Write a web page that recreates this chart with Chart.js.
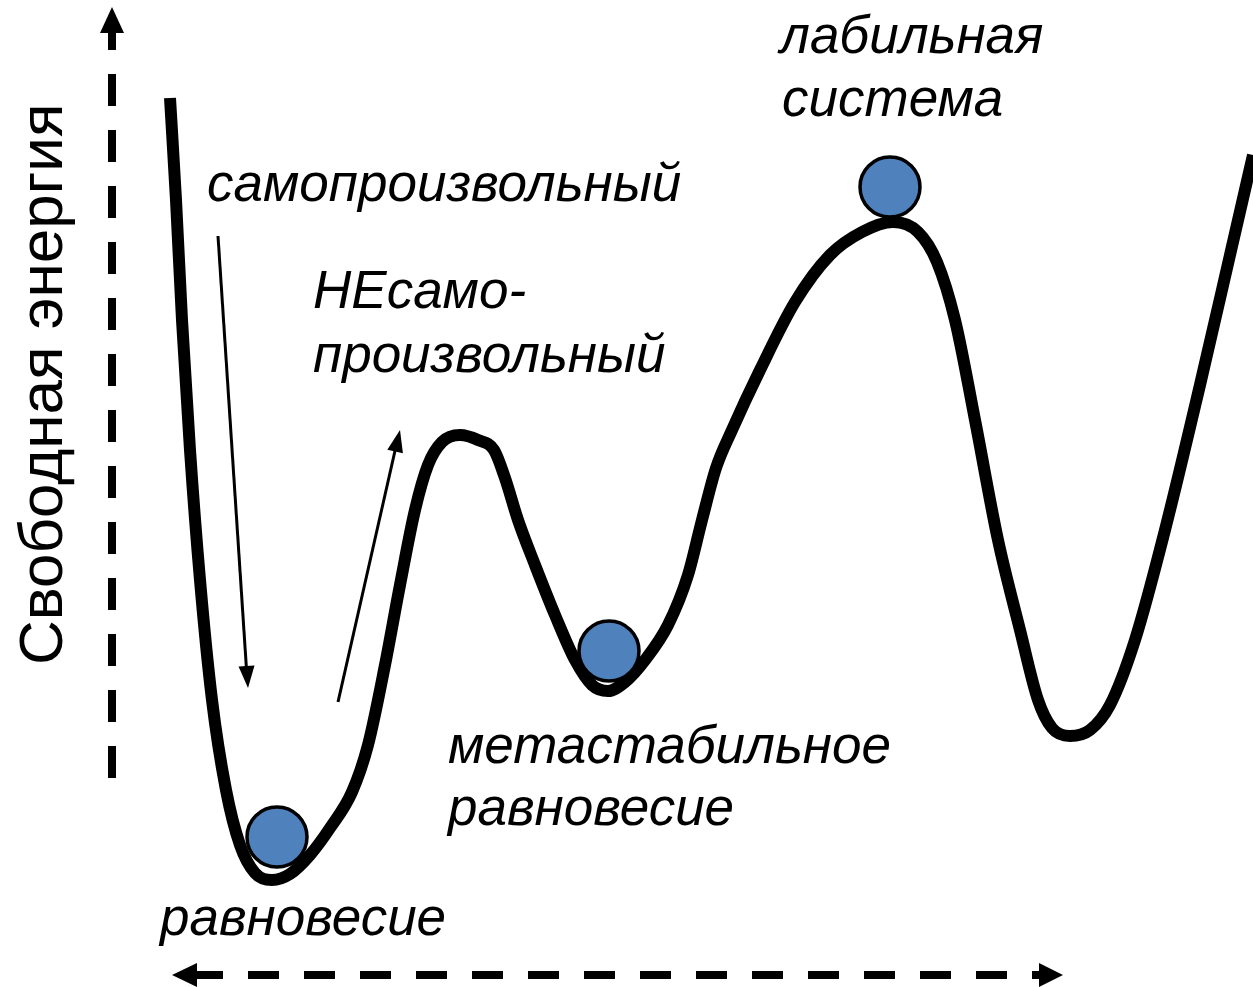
<!DOCTYPE html>
<html>
<head>
<meta charset="utf-8">
<script src="https://cdn.jsdelivr.net/npm/chart.js@4"></script>
<style>
  html, body { margin: 0; padding: 0; background: #fff; }
  canvas { display: block; }
</style>
</head>
<body>
<canvas id="energy" width="1253" height="987"></canvas>
<script>
// reaction coordinate (x) and free energy (G) along the profile
const coord = [170, 176, 182, 190, 200, 212, 226, 240, 255, 272, 290, 310, 330, 352, 368, 385, 400, 415, 428, 442,
  460, 478, 494, 505, 518, 535, 555, 575, 592, 608, 625, 645, 668, 688, 702, 716, 732, 760, 795, 830,
  862, 893, 918, 937, 955, 975, 998, 1020, 1038, 1052, 1070, 1090, 1110, 1135, 1165, 1200, 1230, 1253];
const freeEnergy = [889, 787, 667, 537, 407, 287, 197, 142, 114, 107, 113, 132, 159, 195, 242, 322, 402, 477, 522, 545,
  552, 547, 537, 509, 467, 422, 372, 327, 302, 296, 305, 327, 362, 412, 467, 519, 557, 617, 685, 732,
  755, 765, 755, 725, 667, 567, 447, 357, 287, 259, 251, 257, 282, 347, 457, 602, 732, 832];

// the three balls: stable, metastable, labile
const ballCoord = [277, 609, 890];
const ballEnergy = [150, 336, 800];

const axisTitle = 'Свободная энергия';
const labels = [
  'лабильная', 'система',
  'самопроизвольный',
  'НЕсамо-', 'произвольный',
  'метастабильное', 'равновесие',
  'равновесие'
];
// where each label starts (left, baseline) in chart units
const labelAt = [
  [780, 934], [782, 871],
  [207, 786],
  [313, 679], [313, 615],
  [448, 224], [448, 162],
  [160, 52]
];

const profile = coord.map(function(x, i) { return { x: x, y: freeEnergy[i] }; });
const balls = ballCoord.map(function(x, i) { return { x: x, y: ballEnergy[i] }; });

function arrowHead(ctx, x1, y1, x2, y2, len, half) {
  const a = Math.atan2(y2 - y1, x2 - x1);
  ctx.beginPath();
  ctx.moveTo(x2, y2);
  ctx.lineTo(x2 - len * Math.cos(a) + half * Math.sin(a), y2 - len * Math.sin(a) - half * Math.cos(a));
  ctx.lineTo(x2 - len * Math.cos(a) - half * Math.sin(a), y2 - len * Math.sin(a) + half * Math.cos(a));
  ctx.closePath();
  ctx.fill();
}

const decor = {
  id: 'decor',
  afterDatasetsDraw: function(chart) {
    const ctx = chart.ctx;
    const sx = chart.scales.x, sy = chart.scales.y;
    const px = function(v) { return sx.getPixelForValue(v); };
    const py = function(v) { return sy.getPixelForValue(v); };
    ctx.save();
    ctx.fillStyle = '#000';
    ctx.strokeStyle = '#000';

    // dashed vertical axis with arrow
    ctx.lineWidth = 8;
    ctx.setLineDash([32, 24]);
    ctx.lineDashOffset = 0;
    ctx.beginPath();
    ctx.moveTo(112, 778);
    ctx.lineTo(112, 30);
    ctx.stroke();
    ctx.setLineDash([]);
    ctx.beginPath();
    ctx.moveTo(112, 7);
    ctx.lineTo(124, 33);
    ctx.lineTo(100, 33);
    ctx.closePath();
    ctx.fill();

    // dashed horizontal axis, double headed
    ctx.setLineDash([31, 25]);
    ctx.lineDashOffset = 3;
    ctx.beginPath();
    ctx.moveTo(195, 975);
    ctx.lineTo(1042, 975);
    ctx.stroke();
    ctx.setLineDash([]);
    ctx.beginPath();
    ctx.moveTo(172, 975);
    ctx.lineTo(197, 963);
    ctx.lineTo(197, 987);
    ctx.closePath();
    ctx.fill();
    ctx.beginPath();
    ctx.moveTo(1063, 975);
    ctx.lineTo(1039, 963);
    ctx.lineTo(1039, 987);
    ctx.closePath();
    ctx.fill();

    // thin arrows: spontaneous (down) and non-spontaneous (up)
    ctx.lineWidth = 3;
    ctx.beginPath();
    ctx.moveTo(px(218), py(751));
    ctx.lineTo(px(247), py(310));
    ctx.stroke();
    arrowHead(ctx, px(218), py(751), px(248), py(299), 22, 8);
    ctx.beginPath();
    ctx.moveTo(px(338), py(285));
    ctx.lineTo(px(397), py(545));
    ctx.stroke();
    arrowHead(ctx, px(338), py(285), px(400), py(557), 22, 8);

    // labels
    ctx.font = 'italic 53px "Liberation Sans", Arial, sans-serif';
    ctx.textAlign = 'left';
    ctx.textBaseline = 'alphabetic';
    labels.forEach(function(t, i) {
      ctx.fillText(t, px(labelAt[i][0]), py(labelAt[i][1]));
    });

    // axis title, rotated
    ctx.font = '62px "Liberation Sans", Arial, sans-serif';
    ctx.translate(62, 665);
    ctx.rotate(-Math.PI / 2);
    ctx.fillText(axisTitle, 0, 0);
    ctx.restore();
  }
};

new Chart(document.getElementById('energy'), {
  type: 'line',
  data: {
    datasets: [
      {
        type: 'scatter',
        data: balls,
        pointRadius: 30,
        pointHoverRadius: 30,
        pointBackgroundColor: '#4f81bd',
        pointBorderColor: '#000',
        pointBorderWidth: 3.5,
        showLine: false,
        clip: false,
        order: 0
      },
      {
        data: profile,
        borderColor: '#000',
        borderWidth: 12,
        pointRadius: 0,
        fill: false,
        cubicInterpolationMode: 'monotone',
        borderJoinStyle: 'round',
        clip: false,
        order: 1
      }
    ]
  },
  options: {
    responsive: false,
    animation: false,
    layout: { padding: 0, autoPadding: false },
    plugins: { legend: { display: false }, tooltip: { enabled: false } },
    events: [],
    scales: {
      x: { type: 'linear', min: 0, max: 1253, display: false },
      y: { type: 'linear', min: 0, max: 987, display: false }
    }
  },
  plugins: [decor]
});
</script>
</body>
</html>
